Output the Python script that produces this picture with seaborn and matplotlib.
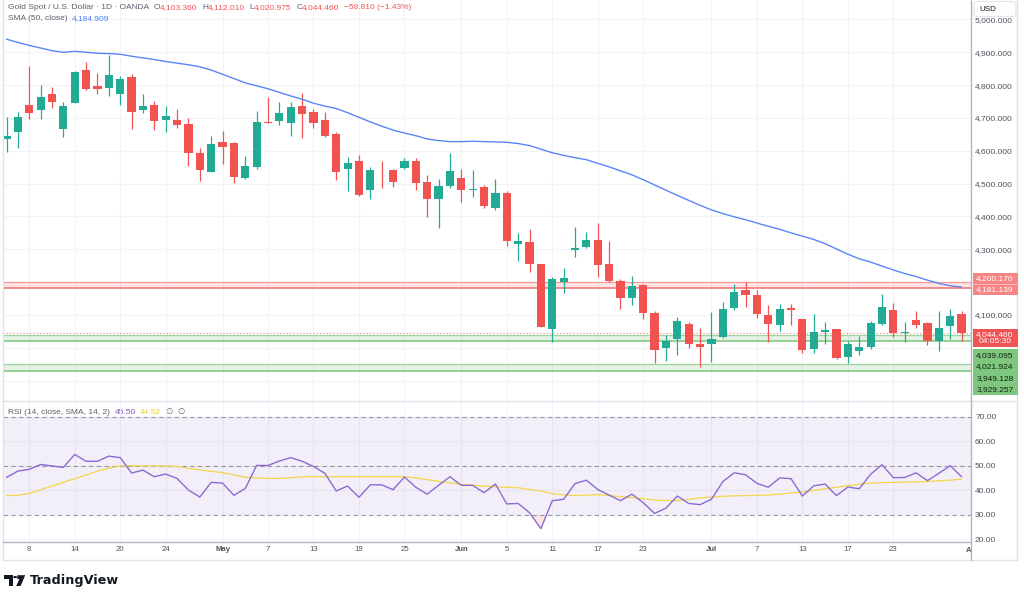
import numpy as np
import pandas as pd
import matplotlib
matplotlib.use("Agg")
import matplotlib.pyplot as plt
from matplotlib.patches import Rectangle, Polygon, Circle, FancyBboxPatch
from matplotlib.lines import Line2D
from matplotlib.transforms import blended_transform_factory
import seaborn as sns

# ---------------- data ----------------
opens = [4636, 4658, 4740, 4724, 4772, 4666, 4747, 4846, 4797, 4790,
         4773, 4824, 4723, 4739, 4694, 4694, 4681, 4594, 4536, 4626,
         4623, 4518, 4550, 4689, 4692, 4686, 4737, 4717, 4694, 4651,
         4544, 4569, 4481, 4543, 4542, 4547, 4569, 4504, 4452, 4494,
         4516, 4480, 4489, 4427, 4472, 4316, 4323, 4254, 4056, 4201,
         4298, 4306, 4328, 4254, 4203, 4151, 4191, 4107, 4000, 4026,
         4071, 4013, 4010, 4034, 4120, 4176, 4161, 4100, 4069, 4120,
         4087, 3996, 4049, 4056, 3973, 3990, 4001, 4072, 4115, 4044,
         4086, 4076, 4021, 4067, 4103.360]
highs = [4704, 4719, 4858, 4800, 4793, 4749, 4844, 4870, 4836, 4892,
         4828, 4833, 4772, 4752, 4736, 4726, 4701, 4607, 4645, 4660,
         4626, 4585, 4722, 4763, 4748, 4748, 4775, 4727, 4719, 4658,
         4582, 4587, 4550, 4569, 4544, 4577, 4577, 4526, 4513, 4594,
         4544, 4542, 4496, 4514, 4478, 4351, 4361, 4256, 4215, 4242,
         4367, 4354, 4381, 4326, 4208, 4219, 4194, 4112, 4039, 4094,
         4079, 4059, 4110, 4140, 4194, 4201, 4176, 4130, 4133, 4133,
         4089, 4102, 4079, 4058, 4021, 4036, 4081, 4163, 4135, 4079,
         4112, 4078, 4112, 4117, 4112.010]
lows = [4597, 4607, 4697, 4697, 4731, 4643, 4745, 4785, 4772, 4768,
        4740, 4665, 4714, 4663, 4656, 4668, 4554, 4508, 4534, 4560,
        4501, 4514, 4544, 4684, 4679, 4645, 4638, 4668, 4643, 4511,
        4478, 4462, 4452, 4488, 4491, 4545, 4481, 4397, 4364, 4486,
        4445, 4460, 4425, 4420, 4310, 4265, 4232, 4062, 4019, 4168,
        4277, 4303, 4217, 4201, 4118, 4130, 4087, 3953, 3959, 3979,
        3998, 3940, 3958, 4029, 4115, 4125, 4090, 4018, 4051, 4069,
        3983, 3983, 4013, 3965, 3955, 3978, 3995, 4069, 4034, 4018,
        4061, 4008, 3991, 4026, 4020.975]
closes = [4646, 4702, 4716, 4765, 4748, 4737, 4841, 4787, 4788, 4831,
          4818, 4719, 4737, 4692, 4706, 4679, 4592, 4541, 4620, 4613,
          4521, 4554, 4689, 4684, 4714, 4734, 4712, 4686, 4646, 4536,
          4564, 4465, 4542, 4540, 4506, 4569, 4503, 4452, 4493, 4537,
          4481, 4484, 4432, 4472, 4325, 4326, 4254, 4064, 4208, 4213,
          4303, 4328, 4252, 4203, 4151, 4188, 4105, 3993, 4022, 4083,
          4011, 4001, 4026, 4118, 4171, 4161, 4103, 4071, 4118, 4115,
          3993, 4049, 4054, 3968, 4011, 4003, 4074, 4125, 4044, 4049,
          4069, 4022, 4061, 4097, 4044.460]
sma50 = [4940, 4930, 4921, 4913, 4905, 4900, 4903, 4900, 4897, 4896,
         4894, 4888, 4883, 4878, 4872, 4867, 4862, 4856, 4846, 4833,
         4820, 4807, 4798, 4789, 4778, 4767, 4757, 4745, 4736, 4729,
         4716, 4702, 4688, 4675, 4663, 4654, 4646, 4636, 4631, 4628,
         4628, 4629, 4628, 4627, 4626, 4622, 4616, 4605, 4594, 4586,
         4579, 4573, 4562, 4551, 4539, 4527, 4512, 4496, 4480, 4464,
         4449, 4434, 4420, 4409, 4399, 4390, 4380, 4370, 4361, 4350,
         4340, 4330, 4317, 4301, 4285, 4271, 4261, 4249, 4237, 4226,
         4217, 4206, 4196, 4189, 4184.909]
rsi = [45.2, 47.8, 48.5, 50.5, 49.9, 49.3, 54.6, 51.8, 51.8, 53.9,
       53.3, 47.0, 48.2, 45.5, 46.6, 44.8, 40.1, 37.2, 43.2, 42.9,
       37.9, 40.7, 50.1, 50.1, 51.9, 53.3, 51.8, 49.7, 46.9, 39.7,
       41.7, 37.1, 42.2, 42.2, 40.2, 45.4, 41.2, 38.4, 42.0, 45.5,
       42.0, 42.0, 39.0, 42.5, 34.4, 34.6, 30.8, 24.3, 35.7, 36.3,
       42.7, 44.1, 40.3, 38.0, 35.7, 38.4, 34.9, 30.5, 32.7, 37.6,
       34.6, 34.1, 36.3, 43.5, 47.1, 46.3, 42.8, 41.2, 45.0, 44.7,
       37.6, 41.8, 42.5, 37.8, 41.3, 40.6, 46.5, 50.4, 45.1, 45.2,
       47.1, 43.9, 46.9, 50.0, 45.50]
rsi_ma = [37.8, 37.9, 38.7, 40.2, 41.7, 43.2, 44.7, 46.2, 47.8, 49.0,
          49.9, 50.0, 49.9, 49.9, 49.9, 49.7, 48.9, 48.3, 47.7, 47.2,
          46.2, 45.3, 45.0, 44.8, 44.8, 45.1, 45.5, 45.5, 45.5, 45.5,
          45.5, 45.5, 45.5, 45.5, 45.5, 45.5, 45.0, 44.3, 43.6, 43.0,
          42.4, 42.0, 41.7, 41.4, 41.2, 41.0, 40.3, 39.7, 38.6, 38.1,
          37.8, 38.0, 38.2, 37.8, 37.4, 37.0, 36.5, 36.0, 35.8, 35.7,
          36.2, 36.9, 37.2, 37.5, 37.7, 37.8, 37.9, 38.0, 38.4, 38.9,
          39.3, 39.9, 40.6, 41.2, 41.8, 42.4, 42.9, 43.1, 43.2, 43.3,
          43.4, 43.6, 43.8, 44.1, 44.52]

xtick_bars = [2, 6, 10, 14, 19, 23, 27, 31, 35, 40, 44, 48, 52, 56, 62, 66, 70, 74, 78, 85]
xtick_labels = ['8', '14', '20', '24', 'May', '7', '13', '19', '25', 'Jun',
                '5', '11', '17', '23', 'Jul', '7', '13', '17', '23', 'Aug']
month_labels = ['May', 'Jun', 'Jul', 'Aug']
price_grid = [3900, 4000, 4100, 4200, 4300, 4400, 4500, 4600, 4700, 4800, 4900, 5000]
price_labeled = [4100, 4300, 4400, 4500, 4600, 4700, 4800, 4900, 5000]
rsi_ticks = [20, 30, 40, 50, 60, 70]
rsi_bands = [70, 50, 30]
resistance_zone = [4200.170, 4181.139]
support_zone_1 = [4039.095, 4021.924]
support_zone_2 = [3949.128, 3929.257]
last_price = 4044.460
countdown = "04:05:30"
sma_period = 50
rsi_params = "RSI (14, close, SMA, 14, 2)"
change_abs = -58.810
change_pct = -1.43

# ---------------- style ----------------
sns.set_style("white")
plt.rcParams['font.family'] = ['Liberation Sans', 'DejaVu Sans']

GREEN = '#22ab94'
RED = '#f05350'
TXT = '#50535e'
GRID = '#f0f3fa'
BORDER = '#e0e3eb'
AXLINE = '#b2b5be'

W, H = 1024, 598
fig = plt.figure(figsize=(W / 100, H / 100), dpi=100)
fig.patch.set_facecolor('white')


def fx(px):
    return px / W


def fy(py):
    return 1 - py / H


L, R = 3.0, 970.5
MAIN_B, RSI_B = 401.0, 541.7
BAR0, STEP = 6.5, 11.37
PRICE_TOP, PRICE_BOT = 5059.3, 3837.9
RSI_TOP, RSI_BOT = 76.41, 18.98

ax = fig.add_axes([fx(L), fy(MAIN_B), (R - L) / W, MAIN_B / H])
axr = fig.add_axes([fx(L), fy(RSI_B), (R - L) / W, (RSI_B - MAIN_B) / H], sharex=ax)

idx = np.arange(len(closes))
o = np.array(opens, float)
h = np.array(highs, float)
l = np.array(lows, float)
c = np.array(closes, float)
up = c >= o
cols = np.where(up, GREEN, RED)

# zones
ax.axhspan(resistance_zone[1], resistance_zone[0], color='#f23645', alpha=0.13, lw=0, zorder=1)
ax.axhline(resistance_zone[0], color='#f59a9a', lw=0.9, zorder=1.5)
ax.axhline(resistance_zone[1], color='#f07070', lw=1.1, zorder=1.5)
for z in (support_zone_1, support_zone_2):
    ax.axhspan(z[1], z[0], color='#4caf50', alpha=0.15, lw=0, zorder=1)
    ax.axhline(z[0], color='#9fd39f', lw=0.9, zorder=1.5)
    ax.axhline(z[1], color='#7cc47c', lw=1.1, zorder=1.5)
ax.axhline(last_price, color='#f23645', lw=0.8, ls=(0, (1, 2)), alpha=0.6, zorder=1.6)

# candles
body_bottom = np.minimum(o, c)
body_h = np.maximum(np.abs(c - o), 3.0)
ax.vlines(idx, l, h, colors=cols, lw=0.9, zorder=3)
ax.bar(idx, body_h, bottom=body_bottom, width=0.72, color=cols, lw=0, zorder=4)

# SMA
df_sma = pd.DataFrame({'bar': idx, 'sma': sma50})
sns.lineplot(data=df_sma, x='bar', y='sma', ax=ax, color='#5a86f6', lw=1.0, zorder=5, legend=False)

# RSI pane
axr.axhspan(30, 70, color='#7e57c2', alpha=0.09, lw=0, zorder=1)
for v in rsi_bands:
    axr.axhline(v, color='#9598a1', lw=0.8, ls=(0, (4, 3)), zorder=1.5)
rsi_arr = np.array(rsi)
axr.fill_between(idx, rsi_arr, 30, where=rsi_arr < 30, interpolate=True,
                 color='#f23645', alpha=0.12, lw=0, zorder=1.6)
df_rsi = pd.DataFrame({'bar': idx, 'rsi': rsi, 'ma': rsi_ma})
sns.lineplot(data=df_rsi, x='bar', y='ma', ax=axr, color='#f2d64b', lw=0.9, zorder=3, legend=False)
sns.lineplot(data=df_rsi, x='bar', y='rsi', ax=axr, color='#8c6bd1', lw=1.0, zorder=4, legend=False)

# limits
xl = ((L - BAR0) / STEP, (R - BAR0) / STEP)
ax.set_xlim(*xl)
ax.set_ylim(PRICE_BOT, PRICE_TOP)
axr.set_ylim(RSI_BOT, RSI_TOP)

for a in (ax, axr):
    a.set_xlabel('')
    a.set_ylabel('')
    for s in a.spines.values():
        s.set_visible(False)
    a.set_facecolor('none')
    a.set_axisbelow(True)
    a.grid(True, color=GRID, lw=0.8)

vis = [(b, t) for b, t in zip(xtick_bars, xtick_labels) if xl[0] <= b <= xl[1]]
ax.set_xticks([b for b, _ in vis])
axr.set_xticks([b for b, _ in vis])
axr.set_xticklabels([t for _, t in vis])
ax.tick_params(axis='x', length=0, labelbottom=False)
axr.tick_params(axis='x', length=0, pad=3.2, labelsize=5.6, labelcolor=TXT)
for lbl in axr.get_xticklabels():
    if lbl.get_text() in month_labels:
        lbl.set_fontweight('bold')

ax.set_yticks(price_grid)
ax.set_yticklabels([f"{v:,.3f}" if v in price_labeled else '' for v in price_grid])
ax.yaxis.tick_right()
ax.tick_params(axis='y', length=0, pad=3.3, labelsize=6.0, labelcolor=TXT)

axr.set_yticks(rsi_ticks)
axr.set_yticklabels([f"{v:.2f}" for v in rsi_ticks])
axr.yaxis.tick_right()
axr.tick_params(axis='y', length=0, pad=3.3, labelsize=6.0, labelcolor=TXT)

# labels beyond the visible bar range (cut off by the price scale)
trans = blended_transform_factory(axr.transData, fig.transFigure)
for b, t in zip(xtick_bars, xtick_labels):
    if b > xl[1]:
        fig.text(0, 0, '')
        axr.text(b, fy(550.5), t, transform=trans, ha='center', va='center',
                 fontsize=5.6, color=TXT, fontweight='bold' if t in month_labels else 'normal',
                 clip_on=False, zorder=1)

# ---- figure-level frame ----
def fig_line(x0, y0, x1, y1, color, lw=1.0, z=6):
    fig.add_artist(Line2D([fx(x0), fx(x1)], [fy(y0), fy(y1)], color=color, lw=lw, zorder=z))


def fig_rect(x0, y0, x1, y1, fc, ec='none', z=7, lw=0.8):
    r = Rectangle((fx(x0), fy(y1)), fx(x1) - fx(x0), fy(y0) - fy(y1),
                  transform=fig.transFigure, facecolor=fc, edgecolor=ec, lw=lw, zorder=z)
    fig.add_artist(r)
    return r


fig_rect(R + 0.5, 542.5, 1016.5, 559.5, 'white', z=5)
fig_line(L, 0, L, 560, BORDER)
fig_line(1017, 0, 1017, 560, BORDER)
fig_line(L, 560, 1017, 560, BORDER)
fig_line(L, MAIN_B, 1017, MAIN_B, BORDER)
fig_line(L, RSI_B, R, RSI_B, AXLINE)
fig_line(R, 0, R, 560, AXLINE)

# USD box
fig.add_artist(FancyBboxPatch((fx(974), fy(16.5)), fx(1016) - fx(974), fy(1.5) - fy(16.5),
                              boxstyle='round,pad=0,rounding_size=0.004', transform=fig.transFigure,
                              facecolor='white', edgecolor=BORDER, lw=0.8, zorder=7))
fig.text(fx(979), fy(9.3), 'USD', fontsize=5.8, color='#131722', va='center', ha='left', zorder=8)

# price scale labels
def price_box(y0, y1, fc, texts, tc):
    fig_rect(R + 2, y0, 1017.5, y1, fc, z=7)
    for ty, s in texts:
        fig.text(fx(995), fy(ty), s, fontsize=6.0, color=tc, ha='center', va='center', zorder=8)


price_box(272.7, 284.0, '#f78585', [(278.4, f"{resistance_zone[0]:,.3f}")], 'white')
price_box(284.0, 295.3, '#f78585', [(289.7, f"{resistance_zone[1]:,.3f}")], 'white')
fig_line(R + 2, 284.0, 1017.5, 284.0, '#fbc4c4', lw=0.6, z=7.5)
price_box(329.0, 346.5, '#f05454', [(334.2, f"{last_price:,.3f}"), (341.3, countdown)], 'white')
price_box(349.3, 395.0, '#7fc77f',
          [(355.6, f"{support_zone_1[0]:,.3f}"), (367.0, f"{support_zone_1[1]:,.3f}"),
           (378.3, f"{support_zone_2[0]:,.3f}"), (389.4, f"{support_zone_2[1]:,.3f}")], '#10240f')

# ---- legends (header) ----
HDR = '#5d606b'


def chain(first_x, y, parts, size=6.0):
    t = fig.text(fx(first_x), fy(y), parts[0][0], color=parts[0][1], fontsize=size,
                 ha='left', va='center', zorder=9)
    for s, col, gap in parts[1:]:
        t = ax.annotate(s, xy=(1, 0.5), xycoords=t, xytext=(gap, 0), textcoords='offset points',
                        color=col, fontsize=size, ha='left', va='center', annotation_clip=False, zorder=9)
    return t


chain(8, 7.4, [("Gold Spot / U.S. Dollar \u00b7 1D \u00b7 OANDA", HDR),
               ("O", HDR, 3.2), (f"{opens[-1]:,.3f}", RED, 0),
               ("H", HDR, 3.2), (f"{highs[-1]:,.3f}", RED, 0),
               ("L", HDR, 3.2), (f"{lows[-1]:,.3f}", RED, 0),
               ("C", HDR, 3.2), (f"{closes[-1]:,.3f}", RED, 0),
               (f"\u2212{abs(change_abs):.3f} (\u2212{abs(change_pct):.2f}%)", RED, 3.2)])
chain(8, 19.0, [(f"SMA ({sma_period}, close)", HDR), (f"{sma50[-1]:,.3f}", '#4d7cf5', 3.2)])
chain(8, 412.3, [(rsi_params, HDR), (f"{rsi[-1]:.2f}", '#7e57c2', 3.2),
                 (f"{rsi_ma[-1]:.2f}", '#f0cf2c', 3.2), ("\u2205", HDR, 3.2), ("\u2205", HDR, 3.2)])

# ---- TradingView logo ----
def px_poly(pts, color):
    fig.add_artist(Polygon([(fx(x), fy(y)) for x, y in pts], closed=True, transform=fig.transFigure,
                           facecolor=color, edgecolor='none', zorder=9))


LOGO = '#131722'
px_poly([(4, 575.2), (13, 575.2), (13, 586), (9.3, 586), (9.3, 579), (4, 579)], LOGO)
fig.add_artist(Circle((fx(15.2), fy(577.1)), 1.9 / W, transform=fig.transFigure,
                      facecolor=LOGO, edgecolor='none', zorder=9))
px_poly([(17.3, 575.2), (25.2, 575.2), (20.6, 586), (16.2, 586), (19.4, 579), (17.3, 579)], LOGO)
fig.text(fx(30), fy(580.8), 'TradingView', fontsize=9.2, fontweight='bold', color=LOGO,
         ha='left', va='center', family=['DejaVu Sans'])

fig.savefig('out.png', dpi=100, facecolor='white')
